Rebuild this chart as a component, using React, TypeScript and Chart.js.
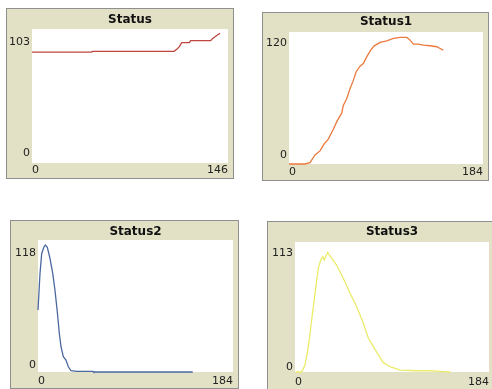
import React, { useEffect, useRef } from "react";
import { Chart, registerables } from "chart.js";

Chart.register(...registerables);

// ---- Data ----
const statusX = [0, 44.5, 45, 105.8, 107.8, 109.8, 111.5, 117.2, 118.2, 133.1, 134.6, 137.1, 140.1];
const statusY = [85.3, 85.3, 85.8, 85.8, 87.4, 89.4, 92.5, 92.5, 94.0, 94.0, 95.8, 97.6, 99.7];

const status1X = [0, 15.2, 19.9, 24.7, 29.4, 33.2, 37.3, 42.1, 45.8, 50, 51.5, 54.7, 57.9, 61, 63.6, 67.4, 70.5, 73.7, 77.5, 80.6, 86.3, 92.7, 99, 105.3, 111.7, 114.2, 118, 122.7, 127.5, 133.8, 140.1, 143.3, 146.4];
const status1Y = [0, 0, 1.2, 8.2, 11.9, 18, 22.6, 31.8, 39.4, 46.2, 53.2, 59.3, 68.5, 76, 83.7, 88.9, 91.3, 97.4, 103.5, 107.2, 110.6, 112, 114.2, 115.1, 115.1, 113.3, 109, 109, 108.1, 107.5, 106.6, 105, 103.5];

const status2X = [0, 1.9, 3.5, 5.7, 6.9, 8.8, 11.3, 13.9, 16, 18.2, 20.1, 21.7, 23.9, 26.4, 28.6, 31.1, 36.5, 52, 52.5, 146];
const status2Y = [55.4, 88.2, 106, 112, 113.5, 111.4, 101.6, 88.2, 73.3, 53.9, 34.6, 22.6, 13.7, 10.7, 4.7, 1.2, 0.5, 0.5, 0, 0];

const status3X = [0.6, 6.4, 9.5, 12.7, 15.8, 19, 22.1, 24.4, 26.3, 27.8, 29.4, 31, 32.5, 34.8, 39.5, 45.8, 52.2, 58.5, 64.8, 69.6, 74.3, 79.1, 83.8, 90.2, 99.7, 115.5, 128.2, 140.8, 147.2];
const status3Y = [0, 0, 6.1, 22, 45.2, 68.4, 90.1, 97.4, 100.3, 97.4, 100.9, 103.8, 101.7, 98.9, 93, 81.5, 68.4, 56.8, 42.3, 29.3, 22, 14.8, 8.1, 4.6, 1.7, 1.1, 1.1, 0.3, 0];

const titles = ["Status", "Status1", "Status2", "Status3"];
const xMaxes = [146, 184, 184, 184];
const yMaxes = [103, 120, 118, 113];

// ---- Layout / style specs ----
type Rect = { left: number; top: number; width: number; height: number };
type Plot = { left: number; top: number; right: number; bottom: number };
type Spec = {
  title: string;
  xs: number[];
  ys: number[];
  xMax: number;
  yMax: number;
  color: string;
  frame: Rect;
  plot: Plot;
  titleY: number;
  yTopLabel: number;
  yBotLabel: number;
  xLabelY: number;
};

const FONT = "'DejaVu Sans', Verdana, sans-serif";
const BEIGE = "#E2E0C5";

const specs: Spec[] = [
  {
    title: titles[0], xs: statusX, ys: statusY, xMax: xMaxes[0], yMax: yMaxes[0], color: "#C0443F",
    frame: { left: 6, top: 8, width: 228, height: 171 },
    plot: { left: 32, top: 29, right: 228, bottom: 163 },
    titleY: 20, yTopLabel: 42, yBotLabel: 153, xLabelY: 170,
  },
  {
    title: titles[1], xs: status1X, ys: status1Y, xMax: xMaxes[1], yMax: yMaxes[1], color: "#EB7A3C",
    frame: { left: 262, top: 12, width: 227, height: 169 },
    plot: { left: 289, top: 32, right: 483, bottom: 164 },
    titleY: 22, yTopLabel: 43, yBotLabel: 155, xLabelY: 172,
  },
  {
    title: titles[2], xs: status2X, ys: status2Y, xMax: xMaxes[2], yMax: yMaxes[2], color: "#4A68A0",
    frame: { left: 10, top: 220, width: 229, height: 169 },
    plot: { left: 38, top: 240, right: 233, bottom: 372 },
    titleY: 232, yTopLabel: 253, yBotLabel: 365, xLabelY: 381,
  },
  {
    title: titles[3], xs: status3X, ys: status3Y, xMax: xMaxes[3], yMax: yMaxes[3], color: "#EBEB6A",
    frame: { left: 267, top: 221, width: 228, height: 170 },
    plot: { left: 295, top: 242, right: 489, bottom: 372 },
    titleY: 232, yTopLabel: 253, yBotLabel: 367, xLabelY: 382,
  },
];

const whiteArea = {
  id: "whiteArea",
  beforeDraw(chart: any) {
    const { ctx, chartArea } = chart;
    if (!chartArea) return;
    ctx.save();
    ctx.fillStyle = "#ffffff";
    ctx.fillRect(chartArea.left, chartArea.top, chartArea.right - chartArea.left, chartArea.bottom - chartArea.top);
    ctx.restore();
  },
};

function Panel({ spec }: { spec: Spec }) {
  const ref = useRef<HTMLCanvasElement | null>(null);
  const cvL = spec.frame.left + 1;
  const cvT = spec.frame.top + 1;
  const cvW = spec.frame.width - 2;
  const cvH = spec.frame.height - 2;

  useEffect(() => {
    if (!ref.current) return;
    const areaL = spec.plot.left - cvL;
    const areaT = spec.plot.top - cvT;
    const areaR = spec.plot.right - cvL;
    const areaB = spec.plot.bottom - cvT;
    const titleLH = 14;
    const tPadTop = Math.max(0, spec.titleY - cvT - titleLH / 2);
    const tPadBottom = Math.max(0, areaT - tPadTop - titleLH);
    const topOff = spec.yTopLabel - spec.plot.top;
    const botOff = spec.yBotLabel - spec.plot.bottom;
    const L = topOff - botOff;
    const o = (topOff + botOff) / 2;
    const xLH = 12;
    const xPad = Math.max(0, spec.xLabelY - spec.plot.bottom - xLH / 2);

    const chart = new Chart(ref.current, {
      type: "line",
      data: {
        datasets: [
          {
            data: spec.xs.map((x, i) => ({ x, y: spec.ys[i] })),
            borderColor: spec.color,
            borderWidth: 1.3,
            pointRadius: 0,
            tension: 0,
            fill: false,
            clip: false,
          },
        ],
      },
      options: {
        animation: false,
        responsive: false,
        devicePixelRatio: 1,
        layout: { padding: { left: 0, top: 0, bottom: 0, right: cvW - areaR } },
        plugins: {
          legend: { display: false },
          tooltip: { enabled: false },
          title: {
            display: true,
            text: spec.title,
            fullSize: false,
            color: "#111",
            font: { family: FONT, size: 12, weight: "bold", lineHeight: titleLH + "px" },
            padding: { top: tPadTop, bottom: tPadBottom },
          },
        },
        scales: {
          x: {
            type: "linear",
            min: 0,
            max: spec.xMax,
            grid: { display: false, drawTicks: false },
            border: { display: false },
            afterBuildTicks: (s: any) => {
              s.ticks = [{ value: 0 }, { value: spec.xMax }];
            },
            afterFit: (s: any) => {
              s.height = cvH - areaB;
              s.paddingLeft = 0;
              s.paddingRight = 0;
            },
            ticks: {
              align: "inner",
              maxRotation: 0,
              autoSkip: false,
              padding: xPad,
              color: "#222",
              font: { family: FONT, size: 11, lineHeight: xLH + "px" },
              callback: (v: any) => String(v),
            },
          },
          y: {
            type: "linear",
            min: 0,
            max: spec.yMax,
            grid: { display: false, drawTicks: false },
            border: { display: false },
            afterBuildTicks: (s: any) => {
              s.ticks = [{ value: 0 }, { value: spec.yMax }];
            },
            afterFit: (s: any) => {
              s.width = areaL;
              s.paddingTop = 0;
              s.paddingBottom = 0;
            },
            ticks: {
              autoSkip: false,
              padding: 2,
              labelOffset: o,
              color: "#222",
              font: { family: FONT, size: 11, lineHeight: L + "px" },
              callback: (v: any) => (Number(v) === 0 ? ["0", ""] : ["", String(v)]),
            },
          },
        },
      },
      plugins: [whiteArea],
    } as any);
    return () => chart.destroy();
  }, [spec]);

  return (
    <div
      style={{
        position: "absolute",
        left: spec.frame.left,
        top: spec.frame.top,
        width: spec.frame.width,
        height: spec.frame.height,
        boxSizing: "border-box",
        border: "1px solid #8f8f8f",
        background: BEIGE,
      }}
    >
      <canvas
        ref={ref}
        width={cvW}
        height={cvH}
        style={{ position: "absolute", left: 0, top: 0, width: cvW, height: cvH }}
      />
    </div>
  );
}

export default function App() {
  return (
    <div style={{ position: "absolute", left: 0, top: 0, width: 492, height: 389, overflow: "hidden", background: "#fff" }}>
      {specs.map((s) => (
        <Panel key={s.title} spec={s} />
      ))}
    </div>
  );
}
